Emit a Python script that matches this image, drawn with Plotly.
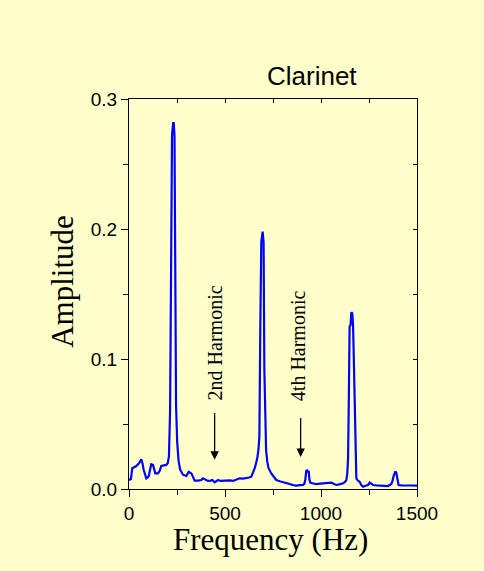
import plotly.graph_objects as go

# spectrum
freq_hz = [0, 10, 17, 30, 38, 52, 64, 70, 76, 90, 102, 110, 116, 125, 137, 151, 160, 168,
           180, 194, 202, 208, 214, 219, 224, 230, 233, 237, 241, 245, 251, 258, 266,
           281, 299, 311, 325, 342, 360, 377, 385, 400, 411, 425, 434, 446, 455, 464,
           477, 490, 507, 525, 542, 560, 576, 595, 611, 625, 637, 648, 655, 662, 668,
           674, 679, 684, 689, 696, 701, 705, 710, 714, 720, 727, 741, 755, 767, 785,
           802, 820, 837, 855, 872, 890, 906, 913, 918, 923, 927, 932, 936, 940, 944,
           960, 976, 995, 1010, 1030, 1054, 1065, 1080, 1100, 1115, 1125, 1132, 1137,
           1141, 1145, 1149, 1154, 1158, 1163, 1167, 1171, 1175, 1180, 1184, 1192, 1201,
           1210, 1219, 1232, 1245, 1254, 1262, 1271, 1290, 1306, 1330, 1349, 1366, 1372,
           1378, 1383, 1387, 1392, 1396, 1404, 1420, 1436, 1470, 1500]
amplitude = [0.007, 0.0075, 0.016, 0.017, 0.0177, 0.0197, 0.0228, 0.020, 0.015, 0.0082,
             0.0095, 0.015, 0.019, 0.0185, 0.012, 0.012, 0.014, 0.0177,
             0.018, 0.0185, 0.020, 0.025, 0.060, 0.172, 0.272, 0.2815, 0.2815, 0.272,
             0.183, 0.065, 0.036, 0.022, 0.015,
             0.011, 0.010, 0.0133, 0.012, 0.0064, 0.0065, 0.0069, 0.0082, 0.0072, 0.0062,
             0.0065, 0.0069, 0.0051, 0.0058, 0.0069,
             0.0062, 0.0064, 0.0069, 0.0066, 0.0062, 0.0072, 0.0082, 0.0080, 0.0082,
             0.0088, 0.0095, 0.013, 0.016, 0.020, 0.0236,
             0.030, 0.040, 0.126, 0.190, 0.198, 0.190, 0.092, 0.050, 0.030, 0.021, 0.016,
             0.012, 0.009, 0.0069, 0.006,
             0.0051, 0.0045, 0.0038, 0.003, 0.0026, 0.003, 0.0031, 0.004, 0.0069, 0.0138,
             0.0143, 0.0133, 0.0133, 0.007, 0.0049,
             0.0042, 0.0038, 0.0042, 0.0044, 0.0042, 0.0049, 0.004, 0.0031, 0.0038,
             0.0044, 0.0055, 0.0069, 0.012,
             0.0236, 0.070, 0.125, 0.126, 0.136, 0.135, 0.126, 0.100, 0.066, 0.020,
             0.0082, 0.0065, 0.0056,
             0.003, 0.0018, 0.0025, 0.0031, 0.005, 0.004, 0.0031, 0.0028, 0.0026, 0.0028,
             0.0023, 0.0038, 0.006,
             0.010, 0.0133, 0.0135, 0.0125, 0.0095, 0.0031, 0.0028, 0.0026, 0.0027, 0.0026]

# harmonic markers: label, x, label height, arrow tail, arrow tip
harm_labels = ['2nd Harmonic', '4th Harmonic']
harm_text_x = [446, 880]
harm_text_y = [0.1125, 0.1106]
harm_arrow_x = [446, 894]
harm_arrow_top = [0.0597, 0.0558]
harm_arrow_tip = [0.0225, 0.0246]

BG = '#FFFFCC'
SERIF = 'Liberation Serif, Times New Roman, serif'
SANS = 'Liberation Sans, Arial, sans-serif'

fig = go.Figure()
fig.add_trace(go.Scatter(x=freq_hz, y=amplitude, mode='lines',
                         line=dict(color='#0000FF', width=2.2), hoverinfo='skip'))
# dummy trace so the top/right axes with inward ticks get drawn
fig.add_trace(go.Scatter(x=freq_hz, y=amplitude, mode='lines', xaxis='x2', yaxis='y2',
                         line=dict(color='rgba(0,0,0,0)', width=0), hoverinfo='skip'))

annots = []
for lab, tx, ty, axx, a0, a1 in zip(harm_labels, harm_text_x, harm_text_y,
                                     harm_arrow_x, harm_arrow_top, harm_arrow_tip):
    annots.append(dict(x=tx, y=ty, xref='x', yref='y', text=lab, showarrow=False,
                       textangle=-90, font=dict(family=SERIF, size=20, color='black'),
                       xanchor='center', yanchor='middle'))
    annots.append(dict(x=axx, y=a1, ax=axx, ay=a0, xref='x', yref='y', axref='x', ayref='y',
                       text='', showarrow=True, arrowhead=2, arrowsize=1.3,
                       arrowwidth=1.3, arrowcolor='black'))

annots.append(dict(x=0.634, y=1.06, xref='paper', yref='paper', text='Clarinet',
                   showarrow=False, font=dict(family=SANS, size=26, color='black'),
                   xanchor='center', yanchor='middle'))
annots.append(dict(x=-0.229, y=0.5315, xref='paper', yref='paper', text='Amplitude',
                   showarrow=False, textangle=-90,
                   font=dict(family=SERIF, size=31, color='black'),
                   xanchor='center', yanchor='middle'))
annots.append(dict(x=0.491, y=-0.13, xref='paper', yref='paper', text='Frequency (Hz)',
                   showarrow=False, font=dict(family=SERIF, size=31, color='black'),
                   xanchor='center', yanchor='middle'))

fig.update_layout(
    width=484, height=571,
    margin=dict(l=129, r=67, t=99, b=82),
    paper_bgcolor=BG, plot_bgcolor=BG,
    showlegend=False,
    annotations=annots,
    xaxis=dict(range=[0, 1500], dtick=500, tick0=0, ticks='outside', ticklen=7,
               tickwidth=1, tickcolor='black', showgrid=False, zeroline=False,
               showline=True, linecolor='black', linewidth=1,
               tickfont=dict(family=SANS, size=19, color='black'),
               minor=dict(dtick=250, ticks='outside', ticklen=5, tickcolor='black',
                          showgrid=False)),
    yaxis=dict(range=[0, 0.3], dtick=0.1, tick0=0, ticks='outside', ticklen=7,
               tickwidth=1, tickcolor='black', showgrid=False, zeroline=False,
               showline=True, linecolor='black', linewidth=1, tickformat='.1f',
               tickfont=dict(family=SANS, size=19, color='black'),
               minor=dict(dtick=0.05, ticks='outside', ticklen=5, tickcolor='black',
                          showgrid=False)),
    xaxis2=dict(range=[0, 1500], overlaying='x', side='top', dtick=250, tick0=0,
                ticks='inside', ticklen=4, tickcolor='black', showticklabels=False,
                showgrid=False, zeroline=False, showline=True, linecolor='black'),
    yaxis2=dict(range=[0, 0.3], overlaying='y', side='right', dtick=0.05, tick0=0,
                ticks='inside', ticklen=4, tickcolor='black', showticklabels=False,
                showgrid=False, zeroline=False, showline=True, linecolor='black'),
)

# drop the page's default body margin so the figure fills the window
fig.write_html('out.html', config={'displayModeBar': False},
               post_script="document.body.style.margin='0';"
                           "document.body.style.background='%s';" % BG)
